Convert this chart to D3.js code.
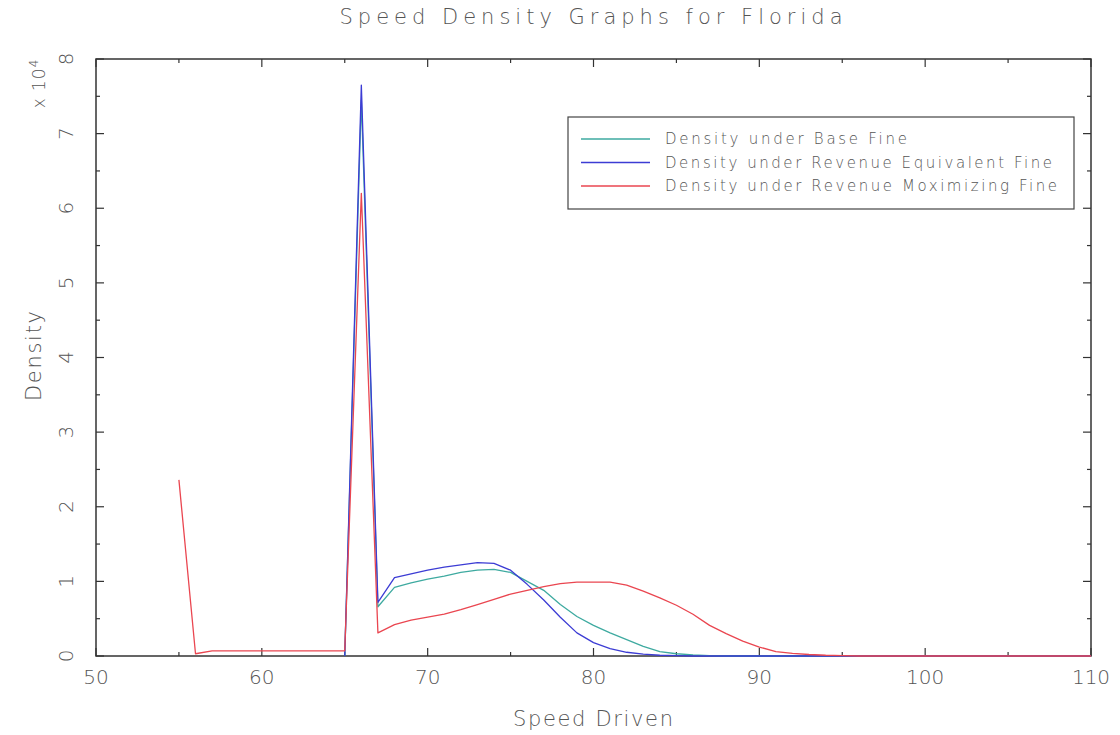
<!DOCTYPE html>
<html>
<head>
<meta charset="utf-8">
<script src="https://cdn.jsdelivr.net/npm/d3@7"></script>
<style>
  html, body { margin: 0; padding: 0; background: #fff; }
  svg { display: block; }
  text { font-family: "DejaVu Sans", "Liberation Sans", sans-serif; font-weight: 200; fill: #555; }
</style>
</head>
<body>
<svg id="chart" width="1120" height="735"></svg>
<script>
// Speed grid (mph); densities are plotted in units shown as "x 10^4" on the axis
const speeds = d3.range(55, 111);

// Base fine: defined from 65 mph upward
const baseFine = {
  start: 65,
  values: [0, 7.45, 0.66, 0.92, 0.98, 1.03, 1.07, 1.12, 1.15, 1.16, 1.12, 1.0, 0.88, 0.69, 0.53,
           0.41, 0.31, 0.22, 0.13, 0.06, 0.03, 0.015, 0.005, 0, 0, 0, 0, 0, 0, 0, 0, 0, 0, 0, 0,
           0, 0, 0, 0, 0, 0, 0, 0, 0, 0, 0]
};
// Revenue equivalent fine: defined from 65 mph upward
const revEquivFine = {
  start: 65,
  values: [0, 7.65, 0.72, 1.05, 1.1, 1.15, 1.19, 1.22, 1.25, 1.24, 1.15, 0.96, 0.75, 0.52, 0.31,
           0.18, 0.1, 0.05, 0.025, 0.01, 0.005, 0, 0, 0, 0, 0, 0, 0, 0, 0, 0, 0, 0, 0, 0,
           0, 0, 0, 0, 0, 0, 0, 0, 0, 0, 0]
};
// Revenue maximizing fine: defined from 55 mph upward
const revMaxFine = {
  start: 55,
  values: [2.36, 0.03, 0.07, 0.07, 0.07, 0.07, 0.07, 0.07, 0.07, 0.07, 0.07,
           6.2, 0.31, 0.42, 0.48, 0.52, 0.56, 0.62, 0.69, 0.76, 0.83, 0.88, 0.93, 0.97, 0.99,
           0.99, 0.99, 0.95, 0.87, 0.78, 0.68, 0.56, 0.41, 0.3, 0.2, 0.12, 0.06, 0.035, 0.02,
           0.01, 0.005, 0, 0, 0, 0, 0, 0, 0, 0, 0, 0, 0, 0, 0, 0, 0]
};

const seriesNames = [
  "Density under Base Fine",
  "Density under Revenue Equivalent Fine",
  "Density under Revenue Moximizing Fine"
];
const seriesColors = ["#3eaaa0", "#3c3cd4", "#ea4650"];

const xTicks = [50, 60, 70, 80, 90, 100, 110];
const yTicks = [0, 1, 2, 3, 4, 5, 6, 7, 8];

const svg = d3.select("#chart");
const m = { left: 96, right: 1091, top: 59, bottom: 656 };

const x = d3.scaleLinear().domain([50, 110]).range([m.left, m.right]);
const y = d3.scaleLinear().domain([0, 8]).range([m.bottom, m.top]);

// Frame
svg.append("rect")
  .attr("x", m.left).attr("y", m.top)
  .attr("width", m.right - m.left).attr("height", m.bottom - m.top)
  .attr("fill", "none").attr("stroke", "#333").attr("stroke-width", 1.5);

// Tick marks on all four sides, pointing inward, with half-step minor ticks
const xMinor = d3.range(55, 110, 10);
const yMinor = d3.range(0.5, 8, 1);
const tickG = svg.append("g").attr("stroke", "#333").attr("stroke-width", 1.2);
function hTicks(vals, len) {
  vals.forEach(v => {
    tickG.append("line").attr("x1", x(v)).attr("x2", x(v)).attr("y1", m.bottom).attr("y2", m.bottom - len);
    tickG.append("line").attr("x1", x(v)).attr("x2", x(v)).attr("y1", m.top).attr("y2", m.top + len);
  });
}
function vTicks(vals, len) {
  vals.forEach(v => {
    tickG.append("line").attr("y1", y(v)).attr("y2", y(v)).attr("x1", m.left).attr("x2", m.left + len);
    tickG.append("line").attr("y1", y(v)).attr("y2", y(v)).attr("x1", m.right).attr("x2", m.right - len);
  });
}
hTicks(xTicks, 8); hTicks(xMinor, 4);
vTicks(yTicks, 8); vTicks(yMinor, 4);

// X tick labels
svg.append("g").selectAll("text").data(xTicks).join("text")
  .attr("x", d => x(d)).attr("y", 684)
  .attr("text-anchor", "middle")
  .style("font-size", "20px")
  .text(d => d);

// Y tick labels, rotated
svg.append("g").selectAll("text").data(yTicks).join("text")
  .attr("transform", d => `translate(66,${y(d)}) rotate(-90)`)
  .attr("text-anchor", "middle").attr("dy", "0.35em")
  .style("font-size", "20px")
  .text(d => d);

// Exponent label
const ex = svg.append("text")
  .attr("transform", "translate(45,84) rotate(-90)")
  .attr("text-anchor", "middle")
  .style("font-size", "17px");
ex.append("tspan").attr("textLength", 40).attr("lengthAdjust", "spacing").text("x 10");
ex.append("tspan").attr("dy", "-0.55em").style("font-size", "12px").text("4");

// Axis titles
svg.append("text")
  .attr("x", 593).attr("y", 726)
  .attr("text-anchor", "middle")
  .attr("textLength", 160).attr("lengthAdjust", "spacing")
  .style("font-size", "21px")
  .text("Speed Driven");

svg.append("text")
  .attr("transform", "translate(41,356) rotate(-90)")
  .attr("text-anchor", "middle")
  .attr("textLength", 90).attr("lengthAdjust", "spacing")
  .style("font-size", "21px")
  .text("Density");

// Title
svg.append("text")
  .attr("x", 591).attr("y", 24)
  .attr("text-anchor", "middle")
  .attr("textLength", 503).attr("lengthAdjust", "spacing")
  .style("font-size", "21px")
  .text("Speed Density Graphs for Florida");

// Series lines
const line = d3.line().x(d => x(d[0])).y(d => y(d[1]));
const allSeries = [baseFine, revEquivFine, revMaxFine];
const lineG = svg.append("g");
allSeries.forEach((s, i) => {
  const pts = s.values.map((v, k) => [s.start + k, v]).filter(p => speeds.includes(p[0]));
  lineG.append("path")
    .datum(pts)
    .attr("d", line)
    .attr("fill", "none")
    .attr("stroke", seriesColors[i])
    .attr("stroke-width", 1.3)
    .attr("stroke-linejoin", "round");
});

// Legend
const lg = svg.append("g");
lg.append("rect")
  .attr("x", 568).attr("y", 117).attr("width", 506).attr("height", 92)
  .attr("fill", "#fff").attr("stroke", "#444").attr("stroke-width", 1.2);
const legendWidths = [242, 387, 392];
seriesNames.forEach((name, i) => {
  const ry = 139 + i * 23.5;
  lg.append("line")
    .attr("x1", 581).attr("x2", 650).attr("y1", ry).attr("y2", ry)
    .attr("stroke", seriesColors[i]).attr("stroke-width", 1.3);
  lg.append("text")
    .attr("x", 665).attr("y", ry + 5)
    .attr("textLength", legendWidths[i]).attr("lengthAdjust", "spacing")
    .style("font-size", "15px")
    .text(name);
});
</script>
</body>
</html>
